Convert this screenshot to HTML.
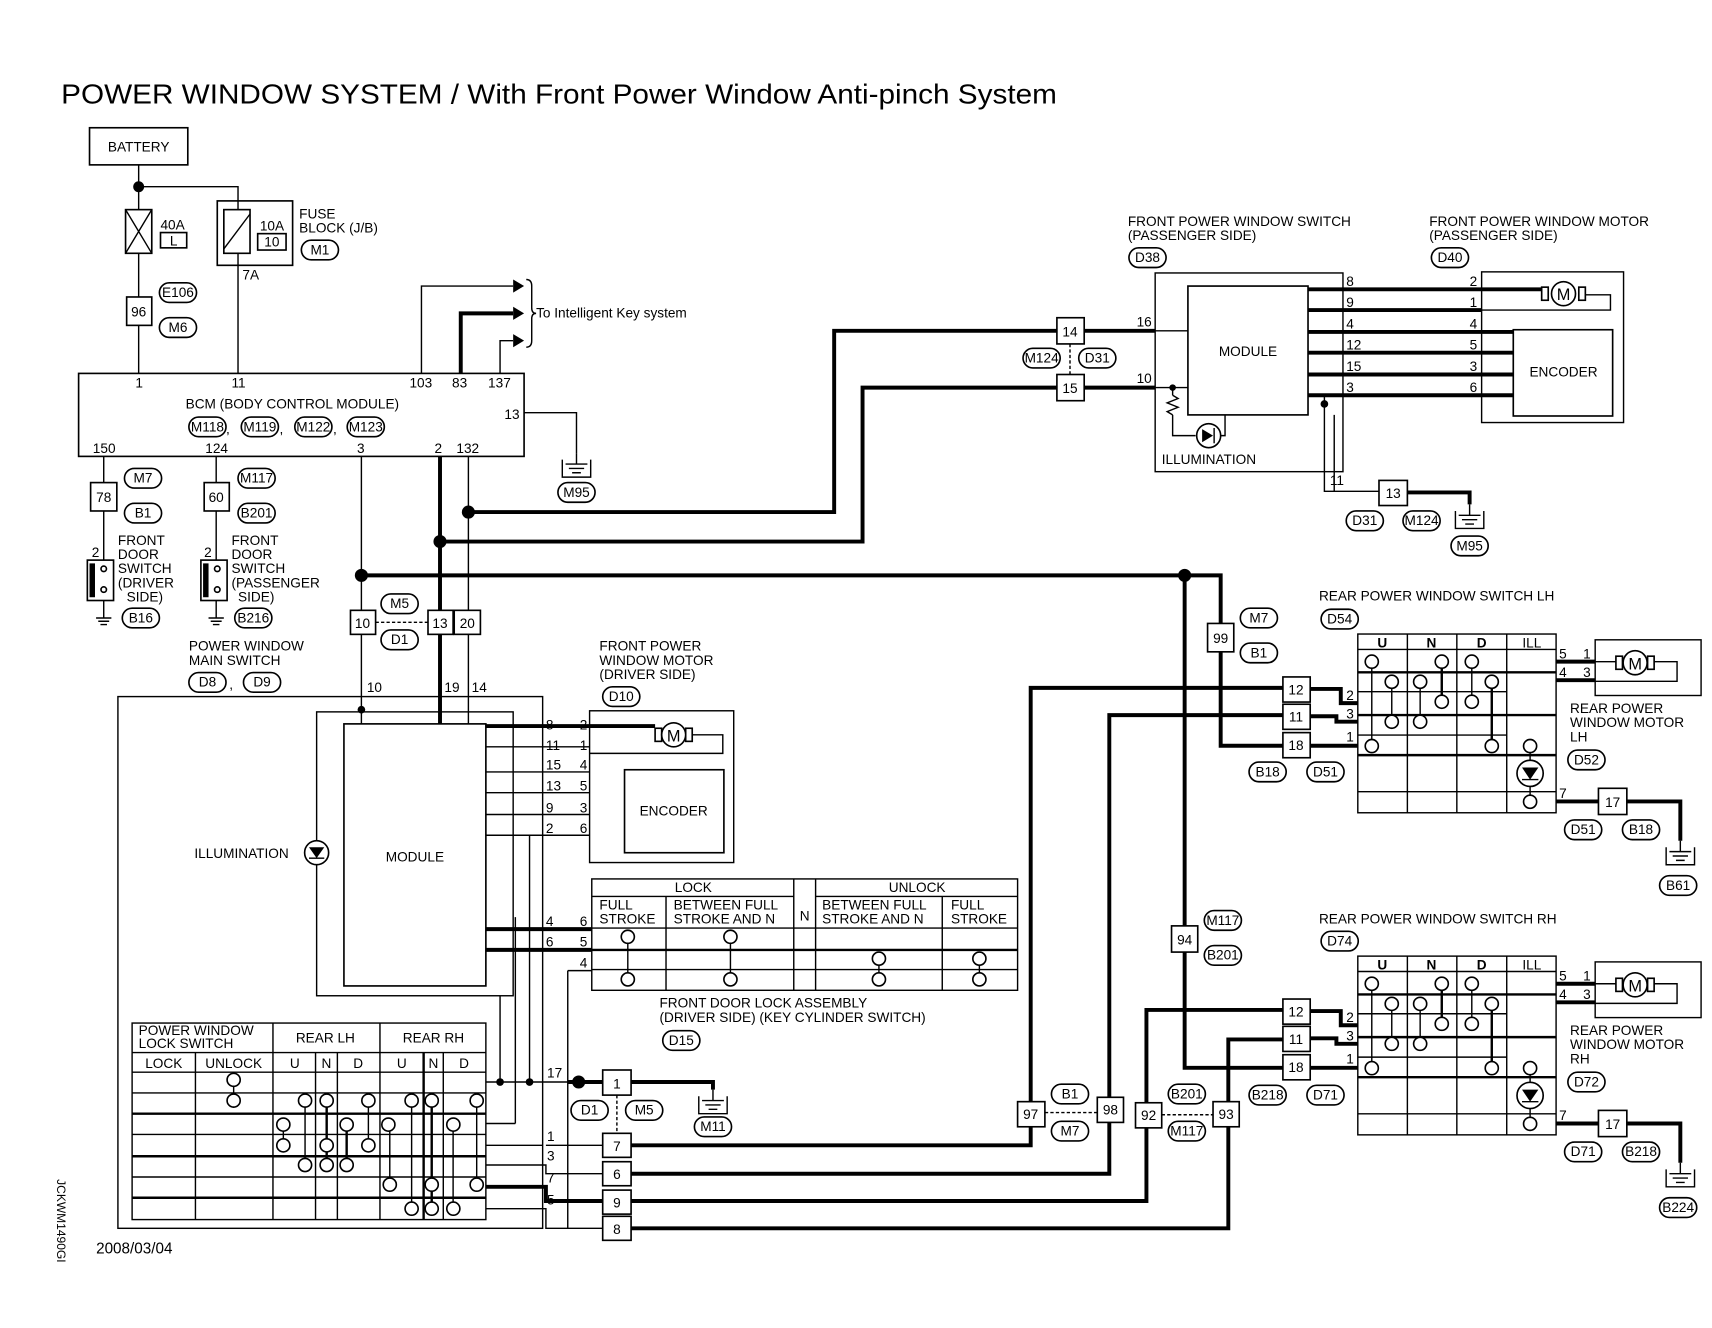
<!DOCTYPE html>
<html><head><meta charset="utf-8"><style>
html,body{margin:0;padding:0;background:#fff}
svg{display:block}
text{font-family:"Liberation Sans",sans-serif;font-size:12.5px;fill:#000}
.t{stroke:#000;stroke-width:1.3;fill:none}
.k{stroke:#000;stroke-width:3.6;fill:none}
.r{stroke:#000;stroke-width:2.2;fill:none}
.b{stroke:#000;stroke-width:1.5;fill:#fff}
.c{stroke:#000;stroke-width:1.5;fill:#fff}
.m{text-anchor:middle}
</style></head><body>
<svg width="1712" height="1328" viewBox="0 0 1568 1216.3" preserveAspectRatio="none" xmlns="http://www.w3.org/2000/svg">
<defs>
<g id="ov"><rect x="-17" y="-9" width="34" height="18" rx="9" class="b"/></g>
<g id="gnd"><path class="t" d="M0 0V10M-10 10H10M-7 14H7M-4 18H4M-13 6V22H13V6"/></g>
</defs>
<text x="56" y="95" style="font-size:25px" textLength="912" lengthAdjust="spacingAndGlyphs">POWER WINDOW SYSTEM / With Front Power Window Anti-pinch System</text>

<path class="k" d="M429 469H764V303H1058M403 496H790V355H1058M331 527H1085H1118V683H1175M1085 527V978H1175"/>
<path class="k" d="M578 1049H944V630H1175M578 1075H1016V655H1175M578 1100H1050V925H1175M578 1125H1125V952H1175"/>

<rect x="82" y="117" width="90" height="34" class="b"/><text x="127" y="139" class="m">BATTERY</text>
<path class="t" d="M127 151V192M127 232V342M127 171H218V184M218 243V342"/>
<circle cx="127" cy="171" r="5"/>
<rect x="115" y="192" width="24" height="40" class="b"/><path class="t" d="M115 192L139 232M139 192L115 232"/>
<text x="147" y="210">40A</text><rect x="147" y="213" width="24" height="14" class="b"/><text x="159" y="225" class="m">L</text>
<rect x="199" y="184" width="69" height="59" class="b"/><rect x="205" y="192" width="24" height="40" class="b"/><path class="t" d="M205 228L229 196"/>
<path class="t" d="M218 184V192M218 232V243"/>
<text x="238" y="211">10A</text><rect x="236" y="214" width="26" height="15" class="b"/><text x="249" y="226" class="m">10</text>
<text x="274" y="200">FUSE</text><text x="274" y="213">BLOCK (J/B)</text>
<use href="#ov" x="293" y="229"/><text x="293" y="233" class="m">M1</text>
<text x="222" y="256">7A</text>
<rect x="116" y="272" width="23" height="26" class="b"/><text x="127" y="290" class="m">96</text>
<use href="#ov" x="163" y="268"/><text x="163" y="272" class="m">E106</text>
<use href="#ov" x="163" y="300"/><text x="163" y="304" class="m">M6</text>

<rect x="72" y="342" width="408" height="76" class="b"/>
<text x="124" y="355">1</text><text x="212" y="355">11</text><text x="375" y="355">103</text><text x="414" y="355">83</text><text x="447" y="355">137</text>
<text x="170" y="374">BCM (BODY CONTROL MODULE)</text>
<use href="#ov" x="190" y="391"/><text x="190" y="395" class="m">M118</text><text x="207" y="397">,</text>
<use href="#ov" x="238" y="391"/><text x="238" y="395" class="m">M119</text><text x="256" y="397">,</text>
<use href="#ov" x="287" y="391"/><text x="287" y="395" class="m">M122</text><text x="305" y="397">,</text>
<use href="#ov" x="335" y="391"/><text x="335" y="395" class="m">M123</text>
<text x="462" y="384">13</text>
<text x="85" y="415">150</text><text x="188" y="415">124</text><text x="327" y="415">3</text><text x="398" y="415">2</text><text x="418" y="415">132</text>
<path class="t" d="M386 342V262H470M458 342V312H470"/><path class="k" d="M422 342V287H470"/>
<path d="M470 256L480 262L470 268ZM470 281L480 287L470 293ZM470 306L480 312L470 318Z"/>
<path class="t" d="M482 256Q487 256 487 262V282Q487 287 491 287Q487 287 487 292V312Q487 318 482 318"/>
<text x="491" y="291">To Intelligent Key system</text>
<path class="t" d="M480 378H528V415"/><use href="#gnd" x="528" y="415"/>
<use href="#ov" x="528" y="451"/><text x="528" y="455" class="m">M95</text>

<path class="t" d="M95 418V442M95 468V513M95 550V566M198 418V442M198 468V513M198 550V566"/>
<rect x="83" y="442" width="24" height="26" class="b"/><text x="95" y="460" class="m">78</text>
<use href="#ov" x="131" y="438"/><text x="131" y="442" class="m">M7</text>
<use href="#ov" x="131" y="470"/><text x="131" y="474" class="m">B1</text>
<rect x="187" y="442" width="23" height="26" class="b"/><text x="198" y="460" class="m">60</text>
<use href="#ov" x="235" y="438"/><text x="235" y="442" class="m">M117</text>
<use href="#ov" x="235" y="470"/><text x="235" y="474" class="m">B201</text>
<text x="84" y="510">2</text><text x="187" y="510">2</text>
<rect x="80" y="513" width="24" height="37" class="b"/><rect x="82" y="516" width="5" height="31"/><circle cx="95" cy="521" r="2.5" class="c"/><circle cx="95" cy="540" r="2.5" class="c"/>
<rect x="184" y="513" width="24" height="37" class="b"/><rect x="186" y="516" width="5" height="31"/><circle cx="199" cy="521" r="2.5" class="c"/><circle cx="199" cy="540" r="2.5" class="c"/>
<path class="t" d="M88 566H102M90 569H100M92 572H98M191 566H205M193 569H203M195 572H201"/>
<use href="#ov" x="129" y="566"/><text x="129" y="570" class="m">B16</text>
<use href="#ov" x="232" y="566"/><text x="232" y="570" class="m">B216</text>
<text x="108" y="499">FRONT</text><text x="108" y="512">DOOR</text><text x="108" y="525">SWITCH</text><text x="108" y="538">(DRIVER</text><text x="116" y="551">SIDE)</text>
<text x="212" y="499">FRONT</text><text x="212" y="512">DOOR</text><text x="212" y="525">SWITCH</text><text x="212" y="538">(PASSENGER</text><text x="218" y="551">SIDE)</text>

<path class="t" d="M331 418V663M429 418V663"/>
<path class="k" d="M403 418V663"/>
<circle cx="429" cy="469" r="6"/><circle cx="403" cy="496" r="6"/><circle cx="331" cy="527" r="6"/><circle cx="1085" cy="527" r="6"/>
<rect x="321" y="559" width="23" height="22" class="b"/><text x="332" y="575" class="m">10</text>
<rect x="392" y="559" width="23" height="22" class="b"/><text x="403" y="575" class="m">13</text>
<rect x="416" y="559" width="24" height="22" class="b"/><text x="428" y="575" class="m">20</text>
<path class="t" d="M344 570H392" stroke-dasharray="3,2"/>
<use href="#ov" x="366" y="553"/><text x="366" y="557" class="m">M5</text>
<use href="#ov" x="366" y="586"/><text x="366" y="590" class="m">D1</text>
<text x="173" y="596">POWER WINDOW</text><text x="173" y="609">MAIN SWITCH</text>
<use href="#ov" x="190" y="625"/><text x="190" y="629" class="m">D8</text><text x="210" y="631">,</text>
<use href="#ov" x="240" y="625"/><text x="240" y="629" class="m">D9</text>

<rect x="108" y="638" width="389" height="487" class="t"/>
<text x="336" y="634">10</text><text x="407" y="634">19</text><text x="432" y="634">14</text>
<rect x="290" y="652" width="180" height="260" class="t"/>
<rect x="315" y="663" width="130" height="240" class="b"/>
<circle cx="331" cy="650" r="3.5"/>
<text x="380" y="789" class="m">MODULE</text>
<text x="178" y="786">ILLUMINATION</text>
<circle cx="290" cy="781" r="11" class="c"/><path d="M283 776H297L290 786Z"/><path class="t" d="M283 786H297"/>
<path class="t" d="M445 684H540M445 707H540M445 726H540M445 746H540M445 765H540"/>
<path class="k" d="M445 665H540"/>
<text x="500" y="668">8</text><text x="500" y="687">11</text><text x="500" y="705">15</text><text x="500" y="724">13</text><text x="500" y="744">9</text><text x="500" y="763">2</text>
<text x="531" y="668">2</text><text x="531" y="687">1</text><text x="531" y="705">4</text><text x="531" y="724">5</text><text x="531" y="744">3</text><text x="531" y="763">6</text>
<rect x="540" y="651" width="132" height="139" class="t"/>
<path class="k" d="M540 665H600"/><path class="t" d="M540 690H662V673H634"/>
<rect x="600" y="667" width="6" height="12" class="b"/><rect x="628" y="667" width="6" height="12" class="b"/>
<circle cx="617" cy="673" r="11" class="c"/><text x="617" y="679" class="m" style="font-size:15px">M</text>
<rect x="572" y="705" width="91" height="76" class="b"/><text x="617" y="747" class="m">ENCODER</text>
<text x="549" y="596">FRONT POWER</text><text x="549" y="609">WINDOW MOTOR</text><text x="549" y="622">(DRIVER SIDE)</text>
<use href="#ov" x="569" y="638"/><text x="569" y="642" class="m">D10</text>

<path class="k" d="M445 851H542M445 870H542"/>
<path class="t" d="M458 912V990M472 840V1029M485 765V990M445 1049H497M520 889V1125M520 889H542"/>
<text x="500" y="848">4</text><text x="500" y="867">6</text><text x="531" y="848">6</text><text x="531" y="867">5</text><text x="531" y="886">4</text>
<rect x="542" y="805" width="390" height="102" class="t"/>
<path class="t" d="M542 821H727M747 821H932M542 850H932M542 888H932M610 821V907M727 805V907M747 805V907M863 821V907"/>
<path class="r" d="M542 870H932"/>
<text x="635" y="817" class="m">LOCK</text><text x="840" y="817" class="m">UNLOCK</text><text x="737" y="843" class="m">N</text>
<text x="549" y="833">FULL</text><text x="549" y="846">STROKE</text><text x="617" y="833">BETWEEN FULL</text><text x="617" y="846">STROKE AND N</text>
<text x="753" y="833">BETWEEN FULL</text><text x="753" y="846">STROKE AND N</text><text x="871" y="833">FULL</text><text x="871" y="846">STROKE</text>
<path class="t" d="M575 858V897M669 858V897M805 878V897M897 878V897"/>
<g class="c"><circle cx="575" cy="858" r="6"/><circle cx="669" cy="858" r="6"/><circle cx="805" cy="878" r="6"/><circle cx="897" cy="878" r="6"/><circle cx="575" cy="897" r="6"/><circle cx="669" cy="897" r="6"/><circle cx="805" cy="897" r="6"/><circle cx="897" cy="897" r="6"/></g>
<text x="604" y="923">FRONT DOOR LOCK ASSEMBLY</text><text x="604" y="936">(DRIVER SIDE) (KEY CYLINDER SWITCH)</text>
<use href="#ov" x="624" y="953"/><text x="624" y="957" class="m">D15</text>

<rect x="121" y="937" width="324" height="180" class="t"/>
<path class="t" d="M121 964H445M121 982H445M121 1001H445M121 1039H445M121 1078H445M179 964V1117M250 937V1117M289 964V1117M309 964V1117M348 937V1117M406 964V1117"/>
<path class="r" d="M121 1020H445M121 1059H445M121 1097H445M388 964V1117"/>
<text x="127" y="948">POWER WINDOW</text><text x="127" y="960">LOCK SWITCH</text>
<text x="298" y="955" class="m">REAR LH</text><text x="397" y="955" class="m">REAR RH</text>
<text x="150" y="978" class="m">LOCK</text><text x="214" y="978" class="m">UNLOCK</text>
<text x="270" y="978" class="m">U</text><text x="299" y="978" class="m">N</text><text x="328" y="978" class="m">D</text>
<text x="368" y="978" class="m">U</text><text x="397" y="978" class="m">N</text><text x="425" y="978" class="m">D</text>
<path class="t" d="M214 989V1008M259.5 1030V1049M279.4 1008V1067M337.4 1008V1049M357 1030V1085M377 1008V1107M436.6 1008V1085M415 1030V1107"/>
<path class="r" d="M299.2 1008V1067M317.5 1030V1067M395.4 1008V1107"/>
<g class="c">
<circle cx="214" cy="989" r="6"/><circle cx="214" cy="1008" r="6"/>
<circle cx="279.4" cy="1008" r="6"/><circle cx="299.2" cy="1008" r="6"/><circle cx="337.4" cy="1008" r="6"/><circle cx="377" cy="1008" r="6"/><circle cx="395.4" cy="1008" r="6"/><circle cx="436.6" cy="1008" r="6"/>
<circle cx="259.5" cy="1030" r="6"/><circle cx="317.5" cy="1030" r="6"/><circle cx="355.7" cy="1030" r="6"/><circle cx="415.2" cy="1030" r="6"/>
<circle cx="259.5" cy="1049" r="6"/><circle cx="299.2" cy="1049" r="6"/><circle cx="337.4" cy="1049" r="6"/>
<circle cx="279.4" cy="1067" r="6"/><circle cx="299.2" cy="1067" r="6"/><circle cx="317.5" cy="1067" r="6"/>
<circle cx="357" cy="1085" r="6"/><circle cx="395.4" cy="1085" r="6"/><circle cx="436.6" cy="1085" r="6"/>
<circle cx="377" cy="1107" r="6"/><circle cx="395.4" cy="1107" r="6"/><circle cx="415.2" cy="1107" r="6"/></g>
<path class="t" d="M445 991H552M445 1029H472M445 1067H500V1075H552M445 1107H500V1125H552M500 1049H552"/>
<path class="k" d="M445 1087H500V1100H552M520 991H552M578 991H653V998"/>
<circle cx="458" cy="991" r="3.5"/><circle cx="485" cy="991" r="3.5"/><circle cx="530" cy="991" r="6"/>
<text x="501" y="987">17</text><text x="501" y="1045">1</text><text x="501" y="1063">3</text><text x="501" y="1083">7</text><text x="501" y="1103">5</text>
<rect x="552" y="980" width="26" height="23" class="b"/><text x="565" y="997" class="m">1</text>
<path class="t" d="M565 1003V1038" stroke-dasharray="3,2"/>
<use href="#gnd" x="653" y="998"/>
<use href="#ov" x="540" y="1017"/><text x="540" y="1021" class="m">D1</text>
<use href="#ov" x="590" y="1017"/><text x="590" y="1021" class="m">M5</text>
<use href="#ov" x="653" y="1032"/><text x="653" y="1036" class="m">M11</text>
<rect x="552" y="1038" width="26" height="22" class="b"/><text x="565" y="1054" class="m">7</text>
<rect x="552" y="1064" width="26" height="22" class="b"/><text x="565" y="1080" class="m">6</text>
<rect x="552" y="1090" width="26" height="22" class="b"/><text x="565" y="1106" class="m">9</text>
<rect x="552" y="1114" width="26" height="22" class="b"/><text x="565" y="1130" class="m">8</text>
<rect x="932" y="1009" width="25" height="23" class="b"/><text x="944" y="1025" class="m">97</text>
<rect x="1005" y="1005" width="24" height="23" class="b"/><text x="1017" y="1021" class="m">98</text>
<rect x="1040" y="1010" width="24" height="23" class="b"/><text x="1052" y="1026" class="m">92</text>
<rect x="1111" y="1009" width="24" height="23" class="b"/><text x="1123" y="1025" class="m">93</text>
<path class="t" d="M957 1019H1005M1064 1021H1111" stroke-dasharray="3,2"/>
<use href="#ov" x="980" y="1002"/><text x="980" y="1006" class="m">B1</text>
<use href="#ov" x="980" y="1036"/><text x="980" y="1040" class="m">M7</text>
<use href="#ov" x="1087" y="1002"/><text x="1087" y="1006" class="m">B201</text>
<use href="#ov" x="1087" y="1036"/><text x="1087" y="1040" class="m">M117</text>
<rect x="1106" y="571" width="24" height="26" class="b"/><text x="1118" y="589" class="m">99</text>
<use href="#ov" x="1153" y="566"/><text x="1153" y="570" class="m">M7</text>
<use href="#ov" x="1153" y="598"/><text x="1153" y="602" class="m">B1</text>
<rect x="1073" y="848" width="24" height="24" class="b"/><text x="1085" y="865" class="m">94</text>
<use href="#ov" x="1120" y="843"/><text x="1120" y="847" class="m">M117</text>
<use href="#ov" x="1120" y="875"/><text x="1120" y="879" class="m">B201</text>

<g id="rear">
<rect x="1175" y="620" width="25" height="23" class="b"/><text x="1187" y="636" class="m">12</text>
<rect x="1175" y="645" width="25" height="23" class="b"/><text x="1187" y="661" class="m">11</text>
<rect x="1175" y="671" width="25" height="23" class="b"/><text x="1187" y="687" class="m">18</text>
<path class="k" d="M1200 631H1228V644H1244M1200 656H1224V661H1244M1200 683H1244M1425 606H1461M1425 623H1461M1425 734H1464M1490 734H1539V770"/>
<text x="1233" y="641">2</text><text x="1233" y="658">3</text><text x="1233" y="679">1</text>
<rect x="1243.6" y="580.7" width="181.6" height="163.7" class="t"/>
<path class="t" d="M1243.6 594.8H1425.2M1243.6 633.5H1380M1243.6 673.2H1380M1243.6 725.1H1425.2M1289 580.7V744.4M1334.3 580.7V744.4M1380 580.7V744.4"/>
<path class="r" d="M1243.6 615.8H1425.2M1243.6 654.9H1425.2M1243.6 691.6H1425.2"/>
<text x="1266" y="593" class="m" style="font-weight:bold">U</text><text x="1311" y="593" class="m" style="font-weight:bold">N</text><text x="1357" y="593" class="m" style="font-weight:bold">D</text><text x="1403" y="593" class="m">ILL</text>
<path class="t" d="M1256.4 606V683M1274.7 624V661M1300.7 624V661M1348 606V643M1401.4 683V734"/>
<path class="r" d="M1320.5 606V643M1366.3 624V683"/>
<g class="c"><circle cx="1256.4" cy="606" r="6"/><circle cx="1320.5" cy="606" r="6"/><circle cx="1348" cy="606" r="6"/>
<circle cx="1274.7" cy="624.4" r="6"/><circle cx="1300.7" cy="624.4" r="6"/><circle cx="1366.3" cy="624.4" r="6"/>
<circle cx="1320.5" cy="642.7" r="6"/><circle cx="1348" cy="642.7" r="6"/>
<circle cx="1274.7" cy="661" r="6"/><circle cx="1300.7" cy="661" r="6"/>
<circle cx="1256.4" cy="683.3" r="6"/><circle cx="1366.3" cy="683.3" r="6"/><circle cx="1401.4" cy="683.3" r="6"/>
<circle cx="1401.4" cy="708.3" r="12"/><circle cx="1401.4" cy="734.3" r="6"/></g>
<path d="M1394 703H1409L1401.4 714Z"/><path class="t" d="M1394 714H1409"/>
<text x="1428" y="603">5</text><text x="1450" y="603">1</text><text x="1428" y="620">4</text><text x="1450" y="620">3</text><text x="1428" y="731">7</text>
<rect x="1461" y="586" width="97" height="51" class="t"/>
<path class="t" d="M1461 606H1480M1514 606H1536V624H1461"/>
<rect x="1480" y="601" width="6" height="12" class="b"/><rect x="1509" y="601" width="6" height="12" class="b"/>
<circle cx="1497.6" cy="607" r="11" class="c"/><text x="1497.6" y="613" class="m" style="font-size:15px">M</text>
<text x="1438" y="653">REAR POWER</text><text x="1438" y="666">WINDOW MOTOR</text>
<rect x="1464" y="722" width="26" height="24" class="b"/><text x="1477" y="739" class="m">17</text>
<use href="#gnd" x="1539" y="770"/>
</g>
<text x="1438" y="679">LH</text>
<text x="1208" y="550">REAR POWER WINDOW SWITCH LH</text>
<use href="#ov" x="1227" y="567"/><text x="1227" y="571" class="m">D54</text>
<use href="#ov" x="1161" y="707"/><text x="1161" y="711" class="m">B18</text>
<use href="#ov" x="1214" y="707"/><text x="1214" y="711" class="m">D51</text>
<use href="#ov" x="1453" y="696"/><text x="1453" y="700" class="m">D52</text>
<use href="#ov" x="1450" y="760"/><text x="1450" y="764" class="m">D51</text>
<use href="#ov" x="1503" y="760"/><text x="1503" y="764" class="m">B18</text>
<use href="#ov" x="1537" y="811"/><text x="1537" y="815" class="m">B61</text>

<use href="#rear" y="295"/>
<text x="1438" y="974">RH</text>
<text x="1208" y="846">REAR POWER WINDOW SWITCH RH</text>
<use href="#ov" x="1227" y="862"/><text x="1227" y="866" class="m">D74</text>
<use href="#ov" x="1161" y="1003"/><text x="1161" y="1007" class="m">B218</text>
<use href="#ov" x="1214" y="1003"/><text x="1214" y="1007" class="m">D71</text>
<use href="#ov" x="1453" y="991"/><text x="1453" y="995" class="m">D72</text>
<use href="#ov" x="1450" y="1055"/><text x="1450" y="1059" class="m">D71</text>
<use href="#ov" x="1503" y="1055"/><text x="1503" y="1059" class="m">B218</text>
<use href="#ov" x="1537" y="1106"/><text x="1537" y="1110" class="m">B224</text>

<text x="1033" y="207">FRONT POWER WINDOW SWITCH</text><text x="1033" y="220">(PASSENGER SIDE)</text>
<use href="#ov" x="1051" y="236"/><text x="1051" y="240" class="m">D38</text>
<text x="1309" y="207">FRONT POWER WINDOW MOTOR</text><text x="1309" y="220">(PASSENGER SIDE)</text>
<use href="#ov" x="1328" y="236"/><text x="1328" y="240" class="m">D40</text>
<rect x="968" y="291" width="25" height="24" class="b"/><text x="980" y="308" class="m">14</text>
<rect x="968" y="343" width="25" height="24" class="b"/><text x="980" y="360" class="m">15</text>
<path class="t" d="M980 315V343" stroke-dasharray="3,2"/>
<use href="#ov" x="954" y="328"/><text x="954" y="332" class="m">M124</text>
<use href="#ov" x="1005" y="328"/><text x="1005" y="332" class="m">D31</text>
<text x="1041" y="299">16</text><text x="1041" y="351">10</text>
<rect x="1058" y="250" width="172" height="182" class="t"/>
<rect x="1088" y="262" width="110" height="118" class="b"/><text x="1143" y="326" class="m">MODULE</text>
<path class="t" d="M1058 303H1088M1058 355H1088M1074 355V362M1074 380V399H1095M1118 399H1122V380"/>
<circle cx="1074" cy="355" r="3"/>
<path class="t" d="M1074 362L1079 365L1069 369L1079 373L1069 377L1074 380"/>
<circle cx="1107" cy="399" r="11" class="c"/><path d="M1101 393V405L1111 399Z"/><path class="t" d="M1112 392V406"/>
<text x="1064" y="425">ILLUMINATION</text>
<path class="k" d="M1198 265H1357M1198 284H1357M1198 304H1386M1198 323H1386M1198 343H1386M1198 362H1386"/>
<text x="1233" y="262">8</text><text x="1233" y="281">9</text><text x="1233" y="301">4</text><text x="1233" y="320">12</text><text x="1233" y="340">15</text><text x="1233" y="359">3</text>
<text x="1346" y="262">2</text><text x="1346" y="281">1</text><text x="1346" y="301">4</text><text x="1346" y="320">5</text><text x="1346" y="340">3</text><text x="1346" y="359">6</text>
<rect x="1357" y="249" width="130" height="138" class="t"/>
<path class="k" d="M1357 265H1412"/><path class="t" d="M1357 284H1475V270H1452"/>
<rect x="1412" y="263" width="6" height="12" class="b"/><rect x="1446" y="263" width="6" height="12" class="b"/>
<circle cx="1432" cy="269" r="11" class="c"/><text x="1432" y="275" class="m" style="font-size:15px">M</text>
<rect x="1386" y="302" width="91" height="79" class="b"/><text x="1432" y="345" class="m">ENCODER</text>
<circle cx="1213" cy="370" r="3.5"/>
<path class="t" d="M1213 362V450H1263M1222 380V450"/>
<path class="k" d="M1289 451H1346V462"/>
<text x="1218" y="444">11</text>
<rect x="1263" y="440" width="26" height="23" class="b"/><text x="1276" y="456" class="m">13</text>
<use href="#gnd" x="1346" y="462"/>
<use href="#ov" x="1250" y="477"/><text x="1250" y="481" class="m">D31</text>
<use href="#ov" x="1302" y="477"/><text x="1302" y="481" class="m">M124</text>
<use href="#ov" x="1346" y="500"/><text x="1346" y="504" class="m">M95</text>

<text x="88" y="1148" style="font-size:14px">2008/03/04</text>
<text transform="translate(52,1080) rotate(90)" style="font-size:11px">JCKWM1490GI</text>
</svg>
</body></html>
